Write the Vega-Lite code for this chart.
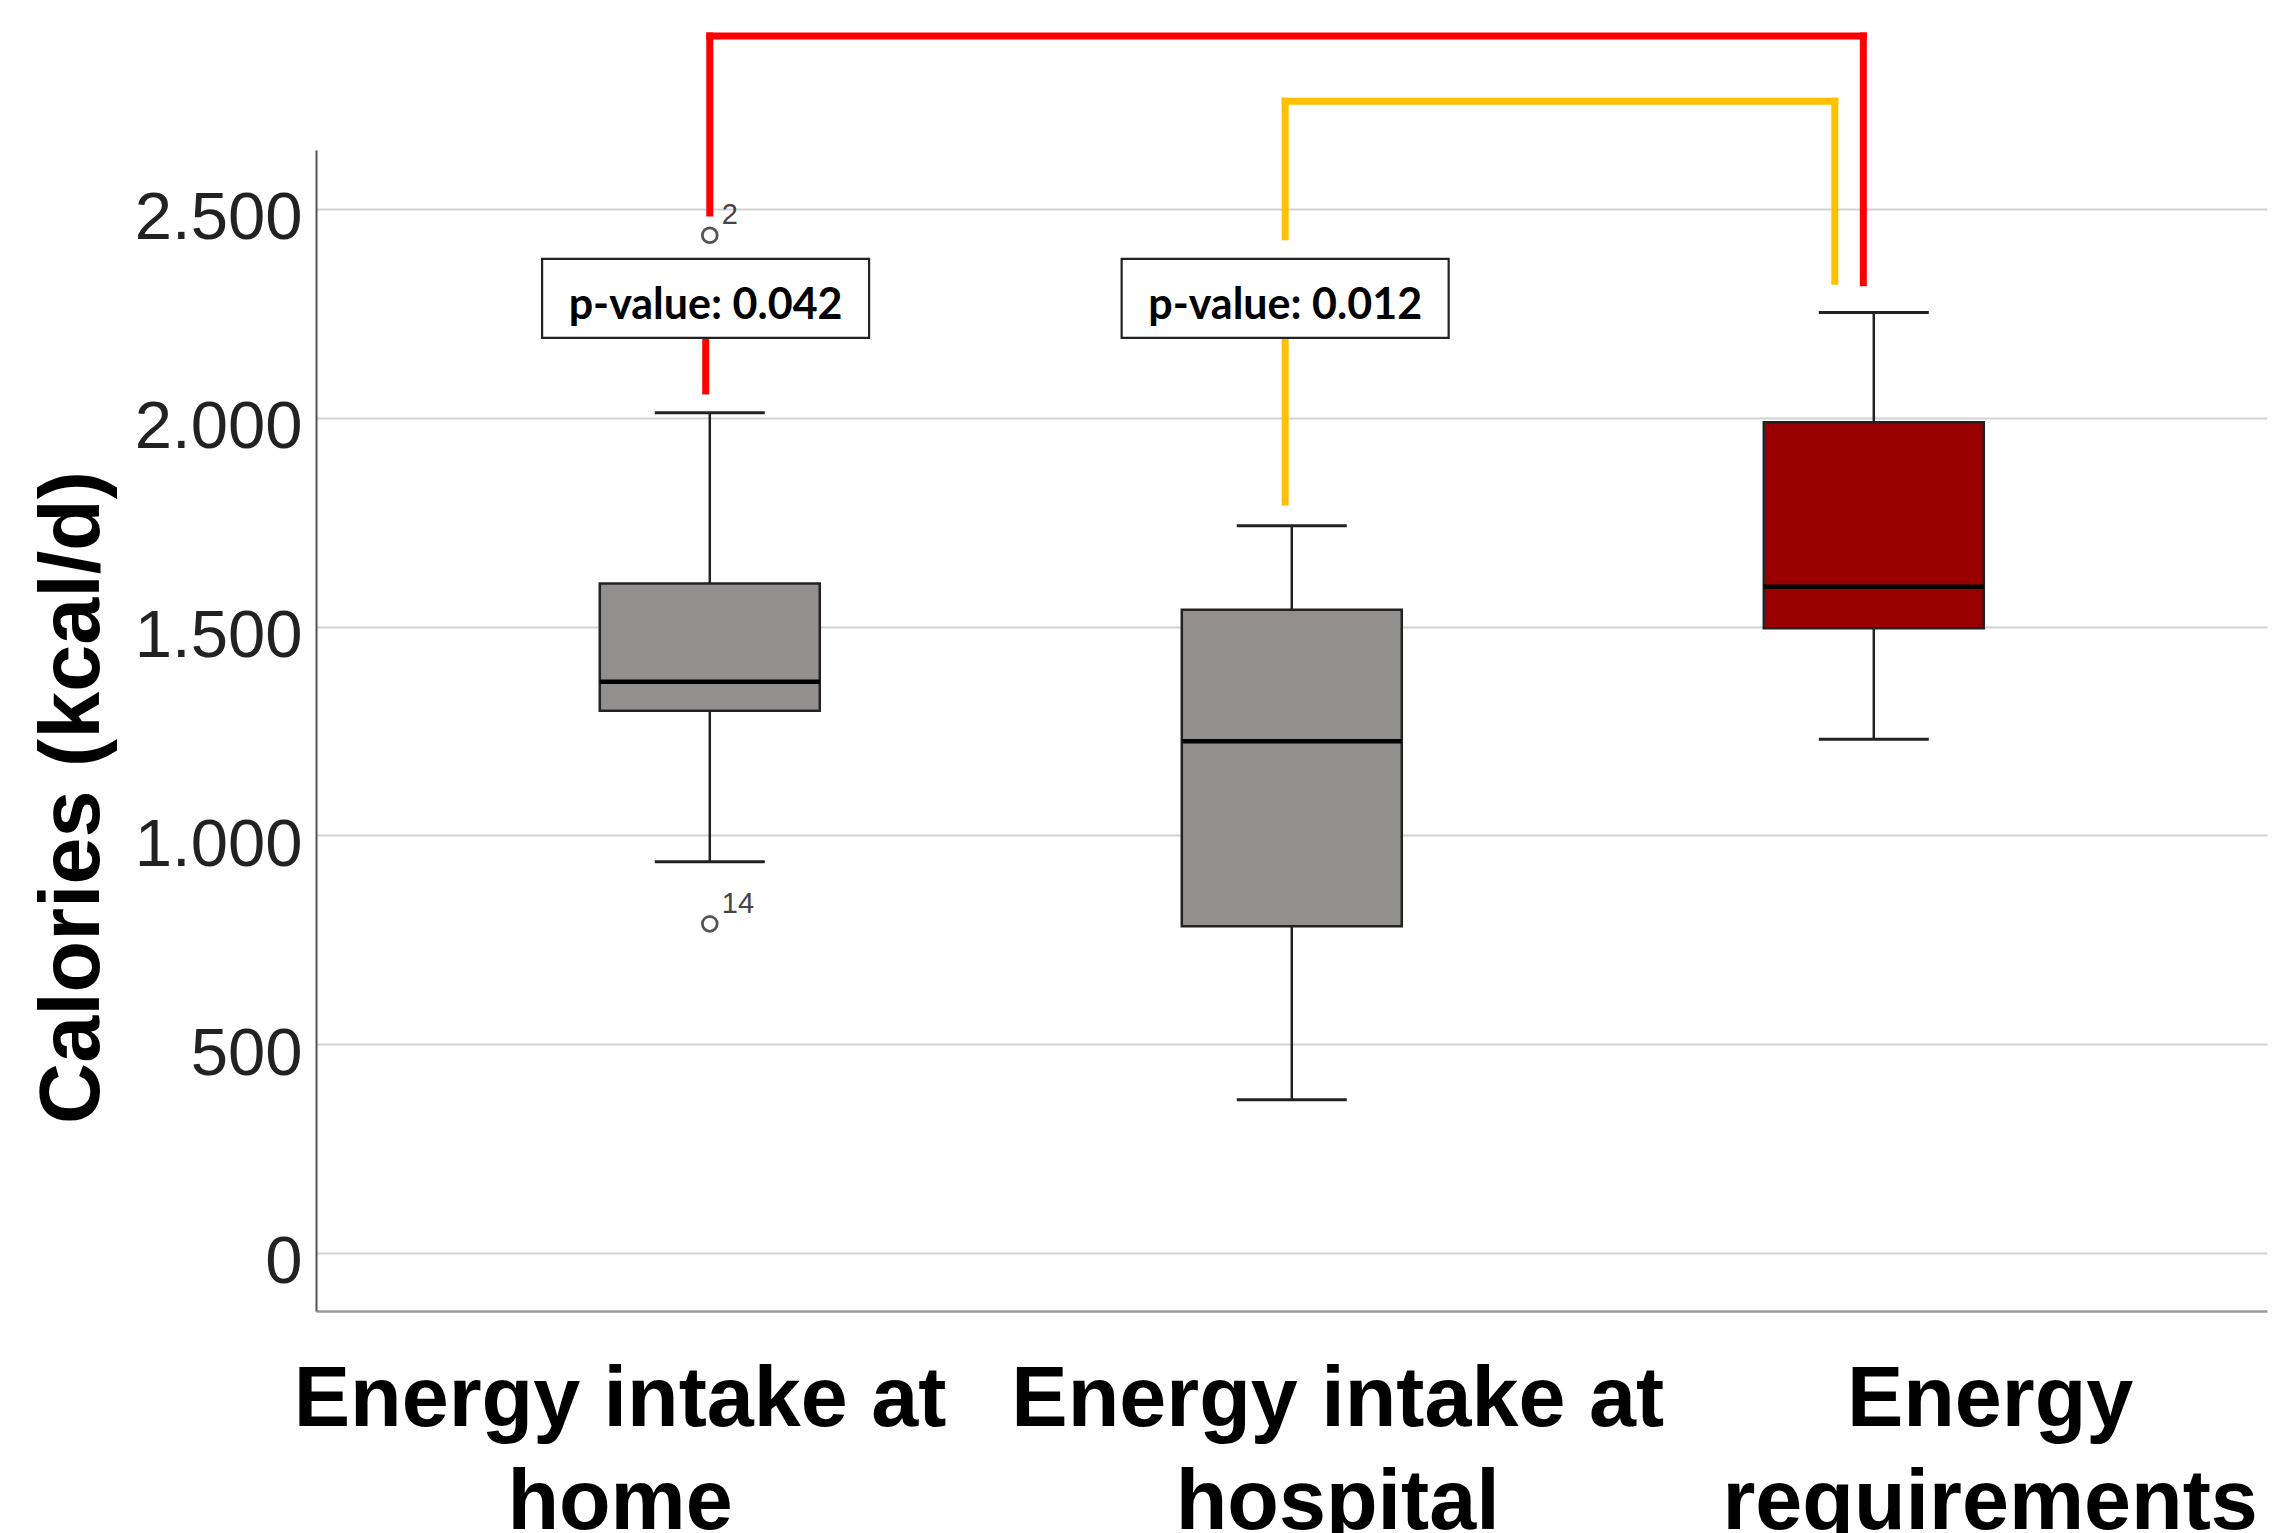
{
  "$schema": "https://vega.github.io/schema/vega-lite/v6.json",
  "width": 1951,
  "height": 1161,
  "autosize": {"type": "none"},
  "padding": {"left": 316, "top": 150, "right": 6, "bottom": 222},
  "background": "white",
  "config": {"view": {"stroke": null}},
  "datasets": {
    "stats": [
      {"group": "Energy intake at home", "pos": 1, "lower": 937, "q1": 1298, "median": 1368, "q3": 1603, "upper": 2012},
      {"group": "Energy intake at hospital", "pos": 2, "lower": 367, "q1": 782, "median": 1225, "q3": 1540, "upper": 1741},
      {"group": "Energy requirements", "pos": 3, "lower": 1230, "q1": 1496, "median": 1595, "q3": 1989, "upper": 2252}
    ],
    "outliers": [
      {"pos": 1, "value": 2437, "case": "2"},
      {"pos": 1, "value": 788, "case": "14"}
    ],
    "brackets": [
      {"pair": "home vs requirements", "x": 1.0, "x2": 1.0, "y": 2914, "y2": 2490},
      {"pair": "home vs requirements", "x": 0.993, "x2": 0.993, "y": 2191, "y2": 2064},
      {"pair": "home vs requirements", "x": 1.0, "x2": 2.982, "y": 2914, "y2": 2914},
      {"pair": "home vs requirements", "x": 2.982, "x2": 2.982, "y": 2914, "y2": 2323},
      {"pair": "hospital vs requirements", "x": 1.9886, "x2": 1.9886, "y": 2758, "y2": 2433},
      {"pair": "hospital vs requirements", "x": 1.9886, "x2": 1.9886, "y": 2191, "y2": 1798},
      {"pair": "hospital vs requirements", "x": 1.9886, "x2": 2.933, "y": 2758, "y2": 2758},
      {"pair": "hospital vs requirements", "x": 2.933, "x2": 2.933, "y": 2758, "y2": 2327}
    ],
    "pvalues": [
      {"pair": "home vs requirements", "x": 0.9928, "y": 2285.5, "label": "p-value: 0.042"},
      {"pair": "hospital vs requirements", "x": 1.9886, "y": 2285.5, "label": "p-value: 0.012"}
    ]
  },
  "layer": [
    {
      "data": {"name": "stats"},
      "mark": {"type": "rule", "stroke": "#222222", "strokeWidth": 2.5},
      "encoding": {
        "x": {
          "field": "pos", "type": "quantitative", "title": null,
          "scale": {"domain": [0.332, 3.667], "nice": false, "zero": false},
          "axis": {
            "title": null, "values": [0.845, 2.078, 3.199], "ticks": false, "grid": false,
            "domain": true, "domainColor": "#9a9a9a", "domainWidth": 2.5,
            "labelExpr": "datum.value < 1.5 ? ['Energy intake at', 'home'] : datum.value < 2.5 ? ['Energy intake at', 'hospital'] : ['Energy', 'requirements']",
            "labelFont": "Liberation Sans", "labelFontWeight": "bold", "labelFontSize": 84.5, "labelColor": "#000000",
            "labelPadding": 47, "labelBaseline": "top", "labelAlign": "center", "labelLineHeight": 103,
            "labelOverlap": false, "labelBound": false, "labelFlush": false, "labelLimit": 0
          }
        },
        "y": {
          "field": "lower", "type": "quantitative", "title": "Calories (kcal/d)",
          "scale": {"domain": [-139, 2641], "nice": false, "zero": false},
          "axis": {
            "title": "Calories (kcal/d)", "values": [0, 500, 1000, 1500, 2000, 2500], "ticks": false,
            "grid": true, "gridColor": "#d2d2d2", "gridWidth": 2,
            "domain": true, "domainColor": "#555555", "domainWidth": 2,
            "labelExpr": "replace(format(datum.value, ','), ',', '.')",
            "labelFont": "Liberation Sans", "labelFontSize": 67, "labelColor": "#222222",
            "labelPadding": 14, "labelOffset": 10, "labelBaseline": "middle", "labelLimit": 0,
            "titleFont": "Liberation Sans", "titleFontWeight": "bold", "titleFontSize": 84.5, "titleColor": "#000000",
            "titleAngle": -90, "titleX": -218, "titleY": 647, "titleBaseline": "alphabetic", "titleAlign": "center", "titleLimit": 0
          }
        },
        "y2": {"field": "upper"}
      }
    },
    {
      "data": {"name": "stats"},
      "mark": {"type": "tick", "orient": "horizontal", "size": 110, "thickness": 3, "color": "#222222", "opacity": 1},
      "encoding": {
        "x": {"field": "pos", "type": "quantitative", "title": null, "scale": {"domain": [0.332, 3.667], "nice": false, "zero": false}},
        "y": {"field": "lower", "type": "quantitative", "title": "Calories (kcal/d)", "scale": {"domain": [-139, 2641], "nice": false, "zero": false}}
      }
    },
    {
      "data": {"name": "stats"},
      "mark": {"type": "tick", "orient": "horizontal", "size": 110, "thickness": 3, "color": "#222222", "opacity": 1},
      "encoding": {
        "x": {"field": "pos", "type": "quantitative", "title": null, "scale": {"domain": [0.332, 3.667], "nice": false, "zero": false}},
        "y": {"field": "upper", "type": "quantitative", "title": "Calories (kcal/d)", "scale": {"domain": [-139, 2641], "nice": false, "zero": false}}
      }
    },
    {
      "data": {"name": "stats"},
      "mark": {"type": "bar", "orient": "vertical", "size": 220, "stroke": "#222222", "strokeWidth": 2.5, "opacity": 1},
      "encoding": {
        "x": {"field": "pos", "type": "quantitative", "title": null, "scale": {"domain": [0.332, 3.667], "nice": false, "zero": false}},
        "y": {"field": "q1", "type": "quantitative", "title": "Calories (kcal/d)", "scale": {"domain": [-139, 2641], "nice": false, "zero": false}},
        "y2": {"field": "q3"},
        "fill": {
          "field": "group", "type": "nominal", "legend": null,
          "scale": {"domain": ["Energy intake at home", "Energy intake at hospital", "Energy requirements"], "range": ["#938f8e", "#938f8e", "#990000"]}
        }
      }
    },
    {
      "data": {"name": "stats"},
      "mark": {"type": "tick", "orient": "horizontal", "size": 220, "thickness": 4.5, "color": "#000000", "opacity": 1},
      "encoding": {
        "x": {"field": "pos", "type": "quantitative", "title": null, "scale": {"domain": [0.332, 3.667], "nice": false, "zero": false}},
        "y": {"field": "median", "type": "quantitative", "title": "Calories (kcal/d)", "scale": {"domain": [-139, 2641], "nice": false, "zero": false}}
      }
    },
    {
      "data": {"name": "outliers"},
      "mark": {"type": "point", "shape": "circle", "size": 220, "filled": false, "stroke": "#555555", "strokeWidth": 2.8, "opacity": 1},
      "encoding": {
        "x": {"field": "pos", "type": "quantitative", "title": null, "scale": {"domain": [0.332, 3.667], "nice": false, "zero": false}},
        "y": {"field": "value", "type": "quantitative", "title": "Calories (kcal/d)", "scale": {"domain": [-139, 2641], "nice": false, "zero": false}}
      }
    },
    {
      "data": {"name": "outliers"},
      "mark": {"type": "text", "align": "left", "baseline": "middle", "dx": 12, "dy": -20, "font": "Liberation Sans", "fontSize": 29, "color": "#444444"},
      "encoding": {
        "x": {"field": "pos", "type": "quantitative", "title": null, "scale": {"domain": [0.332, 3.667], "nice": false, "zero": false}},
        "y": {"field": "value", "type": "quantitative", "title": "Calories (kcal/d)", "scale": {"domain": [-139, 2641], "nice": false, "zero": false}},
        "text": {"field": "case"}
      }
    },
    {
      "data": {"name": "brackets"},
      "mark": {"type": "rule", "strokeWidth": 7, "strokeCap": "square"},
      "encoding": {
        "x": {"field": "x", "type": "quantitative", "title": null, "scale": {"domain": [0.332, 3.667], "nice": false, "zero": false}},
        "x2": {"field": "x2"},
        "y": {"field": "y", "type": "quantitative", "title": "Calories (kcal/d)", "scale": {"domain": [-139, 2641], "nice": false, "zero": false}},
        "y2": {"field": "y2"},
        "color": {
          "field": "pair", "type": "nominal", "legend": null,
          "scale": {"domain": ["home vs requirements", "hospital vs requirements"], "range": ["#ff0000", "#ffc000"]}
        }
      }
    },
    {
      "data": {"name": "pvalues"},
      "mark": {"type": "point", "shape": "M-1,-0.2416L1,-0.2416L1,0.2416L-1,0.2416Z", "size": 106929, "filled": true, "fill": "#ffffff", "stroke": "#222222", "strokeWidth": 2.2, "opacity": 1},
      "encoding": {
        "x": {"field": "x", "type": "quantitative", "title": null, "scale": {"domain": [0.332, 3.667], "nice": false, "zero": false}},
        "y": {"field": "y", "type": "quantitative", "title": "Calories (kcal/d)", "scale": {"domain": [-139, 2641], "nice": false, "zero": false}}
      }
    },
    {
      "data": {"name": "pvalues"},
      "mark": {"type": "text", "align": "center", "baseline": "middle", "dy": 8, "font": "Lato", "fontWeight": "bold", "fontSize": 43, "color": "#000000"},
      "encoding": {
        "x": {"field": "x", "type": "quantitative", "title": null, "scale": {"domain": [0.332, 3.667], "nice": false, "zero": false}},
        "y": {"field": "y", "type": "quantitative", "title": "Calories (kcal/d)", "scale": {"domain": [-139, 2641], "nice": false, "zero": false}},
        "text": {"field": "label"}
      }
    }
  ]
}
